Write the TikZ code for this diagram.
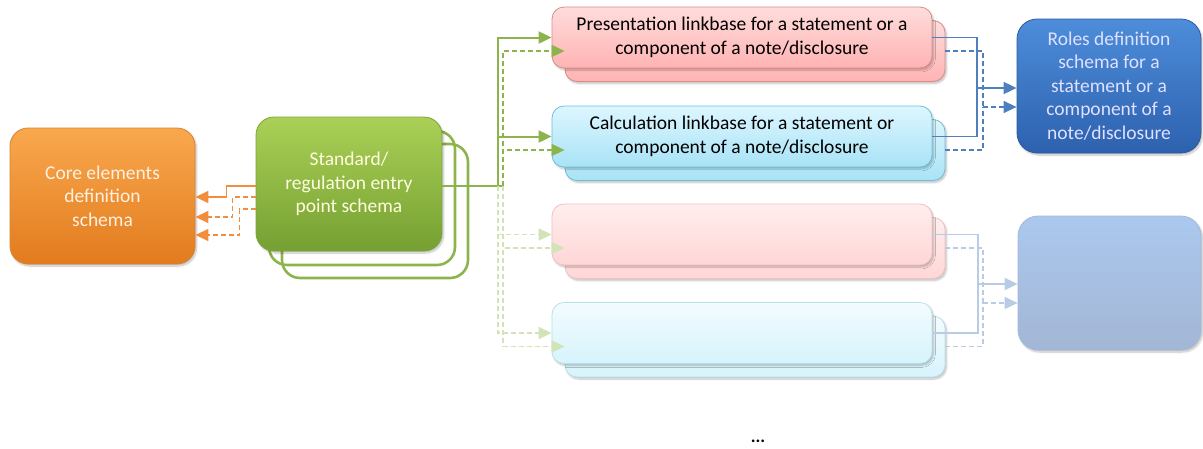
\documentclass[tikz,border=0pt]{standalone}
\usepackage{fontspec}
\setmainfont{Carlito}
\usetikzlibrary{arrows.meta,shadows.blur,calc}
\definecolor{orT}{HTML}{F9A84E}
\definecolor{orB}{HTML}{E27B1E}
\definecolor{orD}{HTML}{D9822F}
\definecolor{grT}{HTML}{AAD056}
\definecolor{grB}{HTML}{75A032}
\definecolor{grD}{HTML}{7DA53D}
\definecolor{grL}{HTML}{8DB44C}
\definecolor{grF}{HTML}{D3E3B8}
\definecolor{prT}{HTML}{FFDCDC}
\definecolor{prB}{HTML}{FFB3B3}
\definecolor{prD}{HTML}{D88C8A}
\definecolor{caT}{HTML}{DDF6FF}
\definecolor{caB}{HTML}{A8E3F6}
\definecolor{caD}{HTML}{6DC0D9}
\definecolor{blT}{HTML}{4D8DDA}
\definecolor{blB}{HTML}{2D61AE}
\definecolor{blD}{HTML}{2C5B9E}
\definecolor{blL}{HTML}{4F7FBF}
\definecolor{blF}{HTML}{B8CCE6}
\definecolor{fpT}{HTML}{FFEEEE}
\definecolor{fpB}{HTML}{FFD6D6}
\definecolor{fpD}{HTML}{F1C0C0}
\definecolor{fcT}{HTML}{F3FCFF}
\definecolor{fcB}{HTML}{D7F3FC}
\definecolor{fcD}{HTML}{B5E1EF}
\definecolor{fbT}{HTML}{ABC8EE}
\definecolor{fbB}{HTML}{A3B6D5}
\definecolor{fbD}{HTML}{A0BADD}
\definecolor{orA}{HTML}{F28D3B}
\tikzset{
  x=1pt, y=-1pt,
  box/.style={rounded corners=#1, line width=0.8pt, inner sep=0pt, align=center,
    font=\fontsize{19.5}{23.5}\selectfont,
    blur shadow={shadow blur steps=6, shadow xshift=1.5pt, shadow yshift=-2pt, shadow opacity=25}},
  orangebox/.style={box=18pt, draw=orD, top color=orT, bottom color=orB, text=white!88!orange,
    minimum width=185pt, minimum height=136pt},
  greenbox/.style={box=18pt, draw=grD, top color=grT, bottom color=grB, text=white!88!yellow,
    minimum width=186pt, minimum height=134pt},
  greenback/.style={rounded corners=18pt, draw=grL, line width=2.6pt, minimum width=186pt, minimum height=134pt},
  presbox/.style={box=12pt, draw=prD, top color=prT, bottom color=prB, text=black,
    minimum width=380pt, minimum height=61pt},
  calcbox/.style={box=12pt, draw=caD, top color=caT, bottom color=caB, text=black,
    minimum width=380pt, minimum height=61pt},
  fpresbox/.style={box=12pt, draw=fpD, top color=fpT, bottom color=fpB,
    minimum width=380pt, minimum height=61pt},
  fcalcbox/.style={box=12pt, draw=fcD, top color=fcT, bottom color=fcB,
    minimum width=380pt, minimum height=61pt},
  bluebox/.style={box=20pt, draw=blD, top color=blT, bottom color=blB, text=white!88!blue,
    minimum width=184pt, minimum height=134pt},
  fbluebox/.style={box=20pt, draw=fbD, top color=fbT, bottom color=fbB,
    minimum width=183pt, minimum height=134pt},
  tip/.style={-{Triangle[length=13pt,width=12pt]}},
  oline/.style={draw=orA, line width=1.6pt},
  odash/.style={draw=orA, line width=1.4pt, dash pattern=on 5pt off 3pt},
  gline/.style={draw=grL, line width=2pt},
  gdash/.style={draw=grL, line width=1.5pt, dash pattern=on 5pt off 3pt},
  gfdash/.style={draw=grF, line width=1.5pt, dash pattern=on 5pt off 3pt},
  bline/.style={draw=blL, line width=1.8pt},
  bdash/.style={draw=blL, line width=1.4pt, dash pattern=on 5pt off 3pt},
  bfline/.style={draw=blF, line width=1.8pt},
  bfdash/.style={draw=blF, line width=1.4pt, dash pattern=on 5pt off 3pt},
}
\begin{document}
\begin{tikzpicture}
\useasboundingbox (0,0) rectangle (1203,448);
% boxes
\node[orangebox] (orange) at (102.5,196) {Core elements\\definition\\schema};
\node[greenback] (green2) at (375,211) {};
\node[greenback] (green1) at (362,198) {};
\node[greenbox] (green) at (349,184) {Standard/\\regulation entry\\point schema};

\node[presbox] (presb) at (755,51) {};
\node[presbox] (pres) at (742,37.5) {Presentation linkbase for a statement or a\\component of a note/disclosure};
\node[calcbox] (calcb) at (755,150) {};
\node[calcbox] (calc) at (742,136.5) {Calculation linkbase for a statement or\\component of a note/disclosure};
\node[fpresbox] (fpresb) at (755,248) {};
\node[fpresbox] (fpres) at (742,234.5) {};
\node[fcalcbox] (fcalcb) at (755,346.5) {};
\node[fcalcbox] (fcalc) at (742,333) {};

\node[bluebox] (blue) at (1109,86) {Roles definition\\schema for a\\statement or a\\component of a\\note/disclosure};
\node[fbluebox] (fblue) at (1109.5,283) {};

\node[font=\fontsize{18}{20}\selectfont\bfseries, anchor=base, inner sep=0pt] (dots) at (758,442) {...};

% orange connectors
\draw[oline,tip] ([yshift=-2pt]green.west) -- ++(-29,0) |- ([yshift=-1pt]orange.east);
\draw[odash,tip] ([yshift=-13pt]green.west) -- ++(-23,0) |- ([yshift=-21pt]orange.east);
\draw[odash,tip] ([yshift=-25pt]green.west) -- ++(-16,0) |- ([yshift=-39pt]orange.east);

% green connectors
\coordinate (j) at (498,186);
\coordinate (k) at (503,186);
\draw[gline] ([yshift=-2pt]green.east) -- (k);
\draw[gfdash,tip] (j) |- (fpres.west);
\draw[gfdash,tip] (j) |- (fcalc.west);
\draw[gfdash,tip] (k) |- (fpresb.west);
\draw[gfdash,tip] (k) |- (fcalcb.west);
\draw[gdash,tip] (k) |- (presb.west);
\draw[gdash,tip] (k) |- (calcb.west);
\draw[gline,tip] (j) |- (pres.west);
\draw[gline,tip] (j) |- (calc.west);

% blue connectors
\coordinate (m) at (977,88);
\coordinate (n) at (983,107);
\draw[bline] (pres.east) -| (m);
\draw[bline] (calc.east) -| (m);
\draw[bline,tip] (m) -- (blue.west |- m);
\draw[bdash] (presb.east) -| (n);
\draw[bdash] (calcb.east) -| (n);
\draw[bdash,tip] (n) -- (blue.west |- n);

\coordinate (m2) at (978,284);
\coordinate (n2) at (983,303);
\draw[bfline] (fpres.east) -| (m2);
\draw[bfline] (fcalc.east) -| (m2);
\draw[bfline,tip] (m2) -- (fblue.west |- m2);
\draw[bfdash] (fpresb.east) -| (n2);
\draw[bfdash] (fcalcb.east) -| (n2);
\draw[bfdash,tip] (n2) -- (fblue.west |- n2);
\end{tikzpicture}
\end{document}
